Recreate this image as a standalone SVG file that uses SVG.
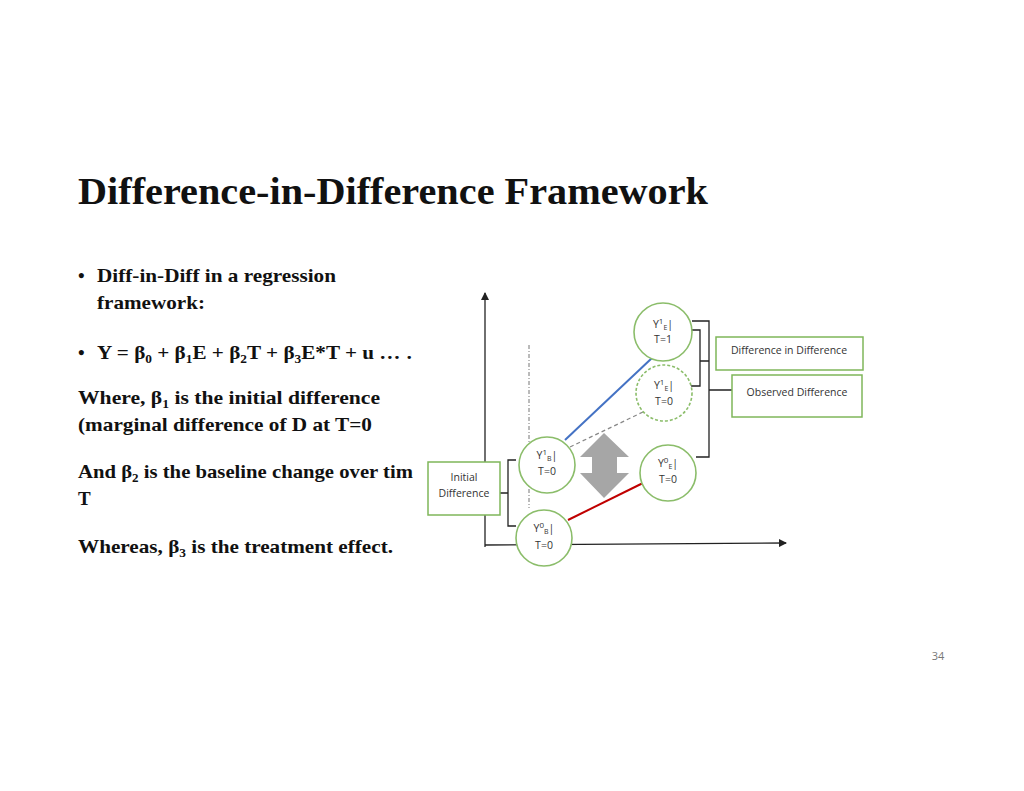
<svg xmlns="http://www.w3.org/2000/svg" width="1024" height="791" viewBox="0 0 1024 791">
<style>
.t{font-family:"Liberation Serif",serif;font-weight:bold;fill:#111}
.c{fill:#fff;stroke:#8bbd6a;stroke-width:1.6}
.b{fill:#fff;stroke:#7fb65a;stroke-width:1.5}
.s{font-family:"Open Sans","Liberation Sans",sans-serif;font-size:10.5px;fill:#333;text-anchor:middle}
.k{fill:none;stroke:#222;stroke-width:1.3}
</style>
<defs>
<marker id="ah" markerWidth="8" markerHeight="8" refX="7" refY="4" orient="auto" markerUnits="userSpaceOnUse"><path d="M0,0L8,4L0,8z" fill="#222"/></marker>
<clipPath id="cl"><rect x="0" y="0" width="413" height="791"/></clipPath>
</defs>
<rect width="1024" height="791" fill="#fff"/>
<text class="t" x="78" y="204" font-size="37" textLength="630" lengthAdjust="spacingAndGlyphs">Difference-in-Difference Framework</text>
<g class="t" font-size="19" clip-path="url(#cl)">
<text x="78" y="282">•</text><text x="97" y="282" textLength="239" lengthAdjust="spacingAndGlyphs">Diff-in-Diff in a regression</text>
<text x="97" y="309" textLength="108" lengthAdjust="spacingAndGlyphs">framework:</text>
<text x="78" y="359">•</text><text x="97" y="359" textLength="330" lengthAdjust="spacingAndGlyphs">Y = β<tspan font-size="12" dy="4">0</tspan><tspan dy="-4"> + β</tspan><tspan font-size="12" dy="4">1</tspan><tspan dy="-4">E + β</tspan><tspan font-size="12" dy="4">2</tspan><tspan dy="-4">T + β</tspan><tspan font-size="12" dy="4">3</tspan><tspan dy="-4">E*T + u … …</tspan></text>
<text x="78" y="404" textLength="302" lengthAdjust="spacingAndGlyphs">Where,  β<tspan font-size="12" dy="4">1</tspan><tspan dy="-4"> is the initial difference</tspan></text>
<text x="78" y="431" textLength="294" lengthAdjust="spacingAndGlyphs">(marginal difference of D at T=0</text>
<text x="78" y="478" textLength="335" lengthAdjust="spacingAndGlyphs">And β<tspan font-size="12" dy="4">2</tspan><tspan dy="-4"> is the baseline change over tim</tspan></text>
<text x="78" y="505">T</text>
<text x="78" y="553" textLength="315" lengthAdjust="spacingAndGlyphs">Whereas, β<tspan font-size="12" dy="4">3</tspan><tspan dy="-4"> is the treatment effect.</tspan></text>
</g>
<g id="connectors">
<line x1="485" y1="547" x2="485" y2="293" class="k" marker-end="url(#ah)"/>
<line x1="485" y1="545" x2="786" y2="543" class="k" marker-end="url(#ah)"/>
<line x1="529" y1="345" x2="529" y2="508" stroke="#777" stroke-width="1" stroke-dasharray="4,2,1,2"/>
<line x1="565" y1="440" x2="652" y2="358" stroke="#4472c4" stroke-width="2"/>
<line x1="570" y1="447" x2="643" y2="412" stroke="#888" stroke-width="1.3" stroke-dasharray="4,3"/>
<line x1="568" y1="520" x2="643" y2="483" stroke="#c00000" stroke-width="2"/>
<path class="k" d="M692,321H709V457H696M709,390H732"/>
<path class="k" d="M690,330H700V386H690M700,361H709"/>
<path class="k" d="M516,460H508V526H516M508,493H500"/>
</g>
<g id="arrow"><path d="M604,433L629,457H617V473H629L604,498L580,473H592V457H580z" fill="#a6a6a6"/></g>
<g id="n1"><circle class="c" cx="663" cy="332" r="29"/><text class="s" x="663" y="328">Y<tspan font-size="8" dy="-4">1</tspan><tspan font-size="7" dy="6">E</tspan><tspan dy="-2">|</tspan></text><text class="s" x="663" y="343">T=1</text></g>
<g id="n2"><circle class="c" cx="664" cy="393" r="28" stroke-dasharray="3,2"/><text class="s" x="664" y="389">Y<tspan font-size="8" dy="-4">1</tspan><tspan font-size="7" dy="6">E</tspan><tspan dy="-2">|</tspan></text><text class="s" x="664" y="405">T=0</text></g>
<g id="n3"><circle class="c" cx="547" cy="465" r="28"/><text class="s" x="547" y="459">Y<tspan font-size="8" dy="-4">1</tspan><tspan font-size="7" dy="6">B</tspan><tspan dy="-2">|</tspan></text><text class="s" x="547" y="475">T=0</text></g>
<g id="n4"><circle class="c" cx="668" cy="473" r="28"/><text class="s" x="668" y="467">Y<tspan font-size="8" dy="-4">0</tspan><tspan font-size="7" dy="6">E</tspan><tspan dy="-2">|</tspan></text><text class="s" x="668" y="483">T=0</text></g>
<g id="n5"><circle class="c" cx="544" cy="538" r="28"/><text class="s" x="544" y="532">Y<tspan font-size="8" dy="-4">0</tspan><tspan font-size="7" dy="6">B</tspan><tspan dy="-2">|</tspan></text><text class="s" x="544" y="549">T=0</text></g>
<g id="b1"><rect class="b" x="716" y="337" width="147" height="33"/><text class="s" x="789" y="354">Difference in Difference</text></g>
<g id="b2"><rect class="b" x="732" y="375" width="130" height="42"/><text class="s" x="797" y="396">Observed Difference</text></g>
<g id="b3"><rect class="b" x="428" y="462" width="72" height="53"/><text class="s" x="464" y="481">Initial</text><text class="s" x="464" y="497">Difference</text></g>
<text x="938" y="660" font-family="Open Sans,Liberation Sans,sans-serif" font-size="11" fill="#777" text-anchor="middle">34</text>
</svg>
